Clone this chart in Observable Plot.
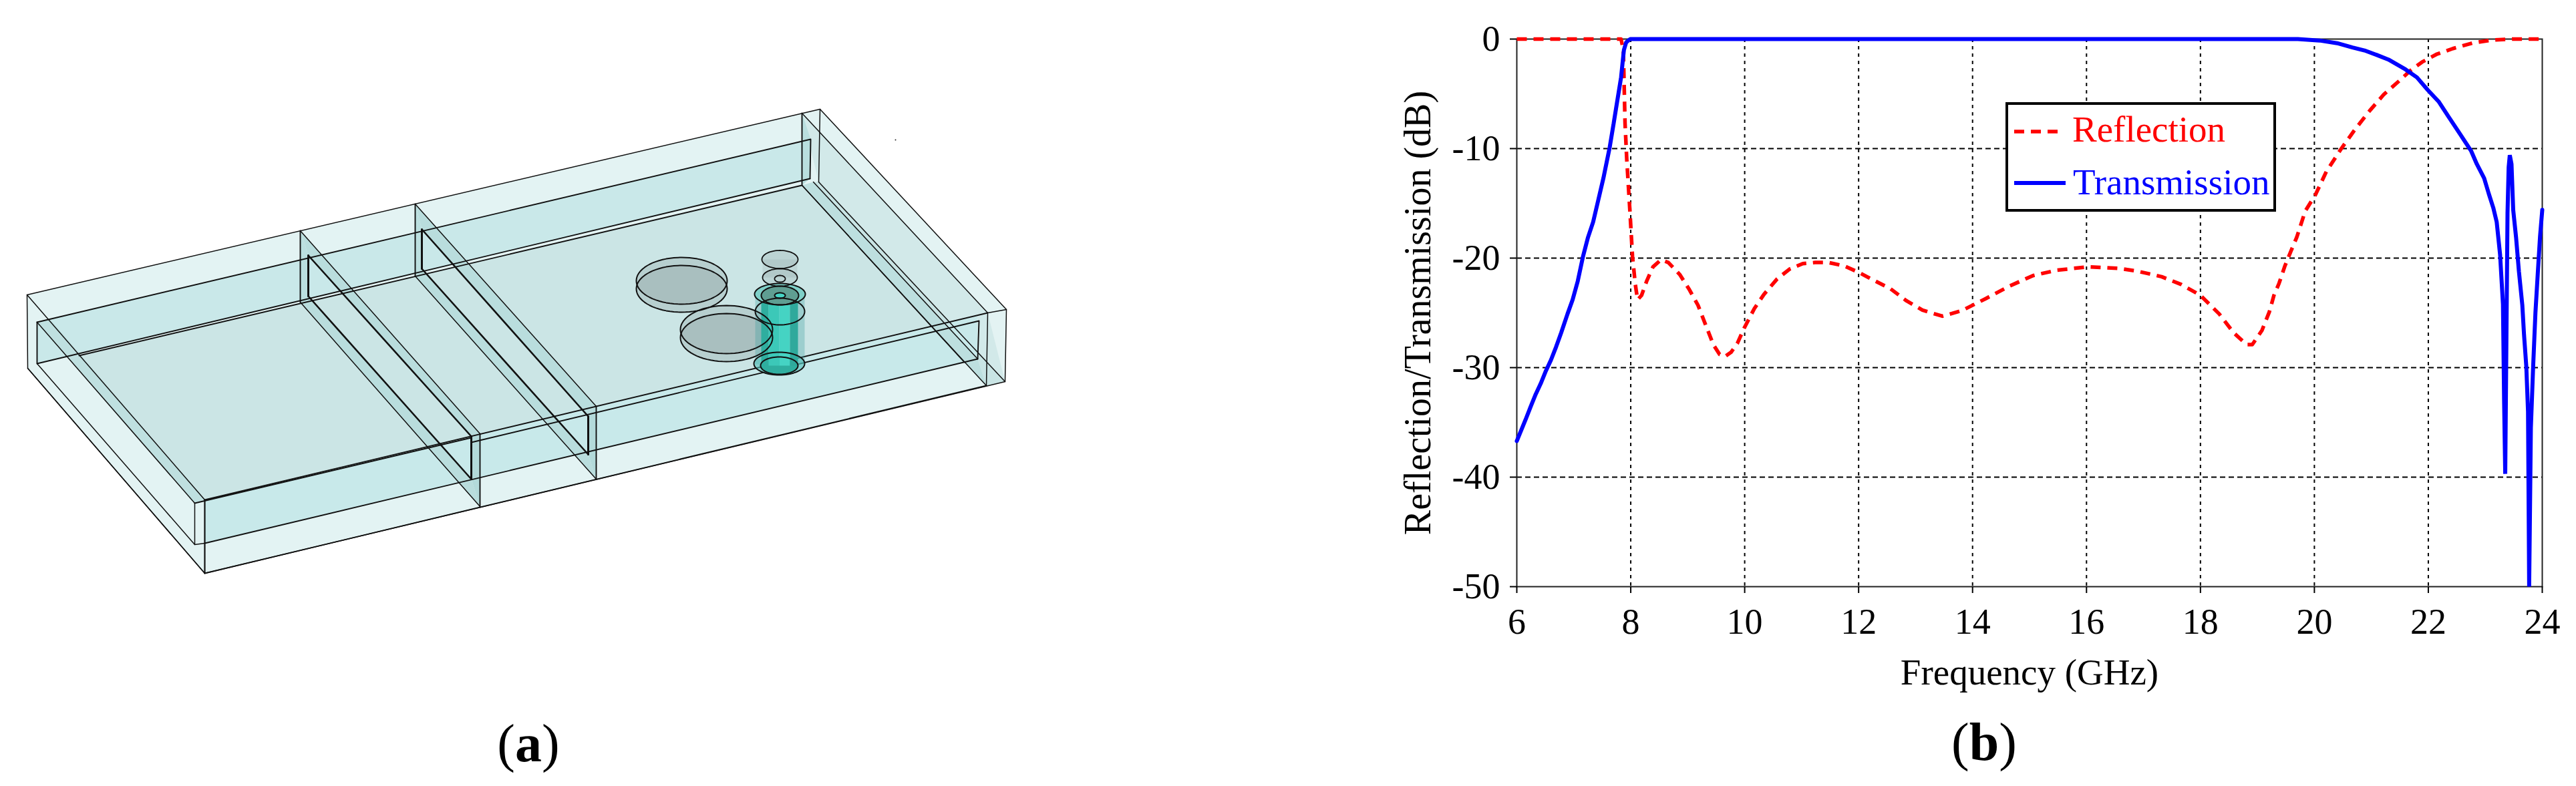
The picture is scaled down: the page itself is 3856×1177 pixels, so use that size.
<!DOCTYPE html>
<html>
<head>
<meta charset="utf-8">
<script src="https://cdn.jsdelivr.net/npm/d3@7"></script>
<script src="https://cdn.jsdelivr.net/npm/@observablehq/plot@0.6"></script>
<style>
html,body{margin:0;padding:0;background:#fff;overflow:hidden}
#root{position:relative;width:3856px;height:1177px;font-family:"Liberation Serif",serif}
.panel{position:absolute;top:0}
.cap{position:absolute;font-size:80px;line-height:1;color:#000;transform:translate(-50%,-50%);white-space:nowrap}
.cap b{font-weight:700}
#legend{position:absolute;left:3002px;top:153px;width:397px;height:156px;border:4px solid #000;background:#fff;font-size:55px}
#legend svg{position:absolute;left:0;top:0}
#legend span{position:absolute;line-height:1;white-space:nowrap}
</style>
</head>
<body>
<div id="root">
  <div class="panel" id="a" style="left:0;width:1800px"></div>
  <div class="panel" id="b" style="left:1800px;width:2056px"></div>
  <div class="cap" style="left:791px;top:1113px">(<b>a</b>)</div>
  <div class="cap" style="left:2970px;top:1111px">(<b>b</b>)</div>
  <div id="legend">
    <svg width="397" height="156">
      <line x1="9" x2="76" y1="40" y2="40" stroke="#f00" stroke-width="5.5" stroke-dasharray="15,10"/>
      <line x1="9" x2="86" y1="117" y2="117" stroke="#00f" stroke-width="6"/>
    </svg>
    <span style="left:96px;top:9px;color:#f00">Reflection</span>
    <span style="left:97px;top:88px;color:#00f">Transmission</span>
  </div>
</div>
<script>
// ---------- panel (b): measured curves ----------
const xTicks = [6,8,10,12,14,16,18,20,22,24];
const yTicks = [0,-10,-20,-30,-40,-50];
const reflectionF = [6,7.83,7.87,7.9,7.93,7.99,8.03,8.08,8.12,8.19,8.28,8.39,8.53,8.66,8.86,9.02,9.18,9.33,9.45,9.56,9.65,9.76,9.87,9.99,10.17,10.34,10.57,10.79,11.02,11.24,11.47,11.74,12,12.22,12.56,12.84,13.12,13.47,13.81,14.23,14.65,15.06,15.48,16.03,16.59,16.9,17.32,17.66,18,18.33,18.58,18.81,18.91,19.08,19.21,19.29,19.38,19.48,19.585,19.69,19.84,20.02,20.21,20.465,20.72,20.97,21.22,21.47,21.68,21.89,22.14,22.43,22.77,23.1,23.47,24];
const reflectionDb = [0,0,-1,-7.7,-11,-16.1,-19.8,-22.4,-23.8,-23.4,-22.1,-20.8,-20.15,-20.4,-21.5,-22.8,-24.3,-26.3,-27.9,-28.8,-29,-28.6,-27.8,-26.4,-24.6,-23.3,-21.9,-21,-20.5,-20.4,-20.4,-20.7,-21.3,-21.9,-22.8,-23.9,-24.75,-25.3,-24.8,-23.7,-22.55,-21.6,-21.1,-20.8,-20.95,-21.2,-21.7,-22.4,-23.4,-25.1,-26.8,-27.9,-27.9,-26.6,-24.9,-23.4,-22.3,-20.75,-19.4,-18.1,-15.7,-14.2,-12.1,-10.06,-8.2,-6.55,-5.05,-3.9,-2.9,-2.1,-1.4,-0.87,-0.37,-0.1,0,0];
const transmissionF = [6,6.15,6.24,6.33,6.42,6.51,6.6,6.69,6.78,6.89,6.98,7.07,7.16,7.25,7.34,7.43,7.52,7.63,7.7,7.74,7.83,7.88,7.92,7.99,19.71,20.09,20.4,20.67,20.88,21.09,21.3,21.6,21.8,21.99,22.18,22.35,22.56,22.75,22.85,22.98,23.06,23.14,23.2,23.26,23.31,23.33,23.35,23.39,23.41,23.43,23.46,23.49,23.54,23.59,23.65,23.68,23.72,23.75,23.77,23.8,23.84,23.88,23.92,23.96,24];
const transmissionDb = [-36.7,-34.8,-33.6,-32.45,-31.45,-30.3,-29.3,-28.1,-26.8,-25.1,-23.8,-22.1,-19.9,-18.1,-16.7,-14.7,-12.7,-9.9,-7.7,-6.4,-3.5,-1,-0.3,0,0,-0.13,-0.38,-0.77,-1.04,-1.44,-1.87,-2.77,-3.5,-4.65,-5.7,-7.05,-8.7,-10.2,-11.4,-12.7,-14.1,-15.4,-16.7,-19.7,-24.2,-33,-39.7,-15.9,-11.7,-10.6,-11.4,-15.6,-18.1,-21.2,-24.3,-27,-29.9,-34,-50,-35.5,-29.9,-25,-21.5,-18.1,-15.6];
const reflection = reflectionF.map((f,i)=>({f,db:reflectionDb[i]}));
const transmission = transmissionF.map((f,i)=>({f,db:transmissionDb[i]}));

const chart = Plot.plot({
  width:2056,height:1177,marginLeft:470,marginRight:51,marginTop:58,marginBottom:299,
  style:{fontFamily:"'Liberation Serif',serif",fontSize:"54px",background:"transparent",color:"#000"},
  x:{domain:[6,24]},y:{domain:[-50,0]},
  marks:[
    Plot.ruleX(xTicks.slice(1,-1),{stroke:"#000",strokeWidth:2,strokeDasharray:"5,6"}),
    Plot.ruleY(yTicks.slice(1,-1),{stroke:"#000",strokeWidth:2,strokeDasharray:"8,5"}),
    Plot.frame({stroke:"#222",strokeWidth:2}),
    Plot.axisX({ticks:xTicks,tickSize:10,tickPadding:22,strokeWidth:2,tickFormat:d=>String(d),label:null}),
    Plot.axisX({ticks:[],label:"Frequency (GHz)",labelAnchor:"center",labelArrow:"none",labelOffset:146,fontSize:55}),
    Plot.axisY({ticks:yTicks,tickSize:10,tickPadding:15,strokeWidth:2,tickFormat:d=>String(d),label:null}),
    Plot.axisY({ticks:[],label:"Reflection/Transmission (dB)",labelAnchor:"center",labelArrow:"none",labelOffset:169,fontSize:56}),
    Plot.line(reflection,{x:"f",y:"db",stroke:"#f00",strokeWidth:5.5,strokeDasharray:"15,10",strokeLinecap:"butt"}),
    Plot.line(transmission,{x:"f",y:"db",stroke:"#00f",strokeWidth:6,strokeLinejoin:"miter"})
  ]
});
document.getElementById("b").append(chart);

// ---------- panel (a): waveguide model, vertices of the projected drawing ----------
const silhouette = [[40,441],[1227,163],[1506,463],[1504,571],[306,858],[41,551]];
const backWall = [[55,482],[1213,208],[1212,267],[55,544]];
const frontWall = [[306,748],[1462,473],[1463,537],[306,813]];
const floorPlate = [[118,532],[1200,277],[1393,488],[306,748]];
const leftBand = [[75,478],[306,748],[291,753],[55,482]];
const rightWall = [[1200,169],[1478,468],[1504,571],[1225,272]];
const rightInner = [[1217,272],[1225,272],[1504,571],[1476,577],[1463,537]];
const rightBand = [[1200,277],[1217,272],[1463,537],[1476,577],[1443,542]];
const rightPost = [[1200,169],[1213,208],[1212,267],[1200,277]];
const slots = [
  {u1:[[449,345],[718,649]],u2:[[461,382],[705,653]],l1:[[449,452],[718,758]],l2:[[461,443],[705,717]]},
  {u1:[[621,305],[892,608]],u2:[[631,343],[880,623]],l1:[[621,413],[892,717]],l2:[[631,402],[880,680]]}
];
const thinLines = [
  [[40,441],[1227,163],[1506,463],[1504,571],[306,858],[41,551],[40,441]],
  [[40,441],[306,748],[306,858]],
  [[41,551],[306,858]],
  [[55,544],[291,815]],
  [[55,482],[291,753],[291,815],[306,813]],
  [[1200,169],[1478,468],[1476,577]],
  [[1200,277],[1476,577]],
  [[1217,272],[1463,537]],
  [[1225,272],[1504,571]],
  [[1227,163],[1225,272]],
  [[1478,468],[1506,463]],
  [[1200,277],[1443,542]]
];
const strongLines = [
  [[55,482],[1213,208],[1212,267]],
  [[55,482],[55,544],[1212,267]],
  [[118,532],[1200,277],[1200,169]],
  [[306,748],[1478,468]],
  [[291,753],[705,655]],
  [[705,662],[1465,480],[1463,537]],
  [[306,813],[1463,537]],
  [[306,748],[306,858]],
  [[306,858],[1476,577]],
  [[449,345],[449,452]],[[621,305],[621,413]],
  [[718,649],[718,758]],[[892,608],[892,717]]
];
const discs = [[1020,420,68,35],[1020,432,68,35],[1087,493,69,36],[1087,505,69,36]];
const stubs = [[1167,388,27,13.5],[1167,415,26,13],[1167,417,8,5]];
const sleeveBody = [[1130,440],[1204,440],[1204,545],[1130,545]];
const pinSlices = [[1139,1150,"#2fae9f"],[1150,1166,"#3cc8b8"],[1166,1182,"#45d3c3"],[1182,1194,"#2fa99c"]];
const pinTopBottom = [443,547];
const stubBody = [[1141,388],[1193,388],[1193,415],[1141,415]];
const caps = {outerTop:[1167,440,38,16],innerTop:[1167,442,28,14],hole:[1167,442,8,4],band:[1167,466,37,20],outerBot:[1166,544,38,17],innerBot:[1166,547,28,13]};
const speck = [[1340,209]];

const ell = ([cx,cy,rx,ry]) => d3.range(73).map(i=>{const t=i/72*2*Math.PI;return [cx+rx*Math.cos(t),cy+ry*Math.sin(t)];});
const X=d=>d[0],Y=d=>d[1];
const fillP=(pts,fill,o={})=>Plot.line(pts,{x:X,y:Y,fill,stroke:"none",...o});
const strokeP=(pts,w=1.5,o={})=>Plot.line(pts,{x:X,y:Y,fill:"none",stroke:"#111",strokeWidth:w,...o});

const marksA=[
  fillP(silhouette,"#e3f3f3"),
  fillP(backWall,"#c9e8e9"),
  fillP(rightWall,"#d2e9e9"),
  fillP(rightInner,"#c9e4e4"),
  fillP(frontWall,"#c8e9ea"),
  fillP(floorPlate,"#cbe5e5"),
  fillP(leftBand,"#bfe0e0"),
  fillP(rightBand,"#bddfdf"),
  fillP(rightPost,"#b9dede")
];
for(const s of slots){
  const poly=(a,b)=>[a[0],a[1],b[1],b[0]];
  marksA.push(fillP(poly(s.u1,s.u2),"#b9dddd"),fillP(poly(s.l1,s.l2),"#b9dddd"));
  marksA.push(fillP([s.u1[0],s.u2[0],s.l2[0],s.l1[0]],"#bbdfdf"),fillP([s.u1[1],s.u2[1],s.l2[1],s.l1[1]],"#b3dada"));
}
for(const l of thinLines) marksA.push(strokeP(l,1.5));
for(const l of strongLines) marksA.push(strokeP(l,1.9));
for(const s of slots){
  marksA.push(strokeP(s.u1,1.5),strokeP(s.l1,1.5),strokeP(s.u2,2.6),strokeP(s.l2,2.6),strokeP([s.u2[0],s.l2[0]],3),strokeP([s.u2[1],s.l2[1]],3));
}
// discs
for(const d of discs) marksA.push(fillP(ell(d),"#8a9a9a",{fillOpacity:0.3}));
// stub cylinder
marksA.push(fillP(stubBody,"#8a9a9a",{fillOpacity:0.2}));
for(const d of stubs.slice(0,2)) marksA.push(fillP(ell(d),"#8a9a9a",{fillOpacity:0.22}));
// pin + sleeve
marksA.push(fillP(sleeveBody,"#3c9f9f",{fillOpacity:0.32}));
marksA.push(fillP(ell(caps.outerBot),"#56c2ba",{fillOpacity:0.6}));
marksA.push(fillP(ell(caps.innerBot),"#2fae9f"));
for(const [x1,x2,c] of pinSlices) marksA.push(fillP([[x1,pinTopBottom[0]],[x2,pinTopBottom[0]],[x2,pinTopBottom[1]],[x1,pinTopBottom[1]]],c));
marksA.push(fillP(ell(caps.outerTop),"#7fd0c8"));
marksA.push(fillP(ell(caps.innerTop),"#5f9e92"));
marksA.push(fillP(ell(caps.hole),"#46d4c4"));
// outlines on top
for(const d of discs) marksA.push(strokeP(ell(d),2));
for(const d of stubs) marksA.push(strokeP(ell(d),1.8));
for(const k of Object.keys(caps)) marksA.push(strokeP(ell(caps[k]),2));
marksA.push(Plot.dot(speck,{x:X,y:Y,r:1,fill:"#222",stroke:"none"}));

const modelPlot = Plot.plot({
  width:1800,height:1177,margin:0,
  style:{background:"transparent"},
  x:{domain:[0,1800],range:[0,1800],axis:null},
  y:{domain:[0,1177],range:[0,1177],axis:null},
  marks:marksA
});
document.getElementById("a").append(modelPlot);
</script>
</body>
</html>
